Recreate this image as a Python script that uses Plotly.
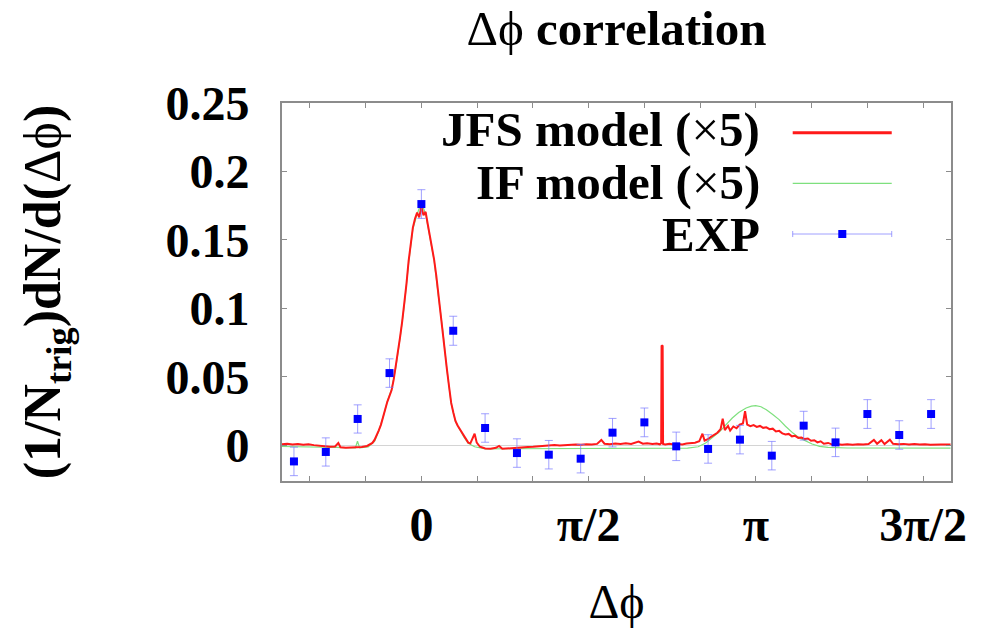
import numpy as np
import plotly.graph_objects as go

PI = np.pi

# ---- EXP: measured two-particle correlation (points with errors) ----
exp_bin = 2 * PI / 21
exp_k = list(range(-4, 17))
exp_val = [-0.0117, -0.0048, 0.0193, 0.0528, 0.1762, 0.0837, 0.0127, -0.0056,
           -0.0068, -0.0097, 0.0093, 0.0168, -0.0007, -0.0026, 0.0042, -0.0075,
           0.0144, 0.0022, 0.0229, 0.0076, 0.0229]
exp_err = [0.0104, 0.0103, 0.0103, 0.0104, 0.0105, 0.0106, 0.0104, 0.0104,
           0.0104, 0.0104, 0.0104, 0.0105, 0.0104, 0.0104, 0.0104, 0.0104,
           0.0105, 0.0104, 0.0105, 0.0104, 0.0105]
exp_phi = [k * exp_bin for k in exp_k]

# ---- JFS model (x5) ----
jfs_phi = [-1.31, -1.26, -1.21, -1.16, -1.11, -1.06, -1.01, -0.96, -0.91, -0.86,
           -0.81, -0.78, -0.76, -0.71, -0.66, -0.61, -0.56, -0.51,
           -0.48, -0.46, -0.44, -0.42, -0.40, -0.38, -0.36, -0.34, -0.32, -0.30,
           -0.28, -0.26, -0.24, -0.22, -0.20, -0.18, -0.16, -0.14, -0.12, -0.10,
           -0.08, -0.06, -0.04, -0.02, 0.00, 0.02, 0.04, 0.06, 0.08, 0.10,
           0.12, 0.14, 0.16, 0.18, 0.20, 0.22, 0.24, 0.26, 0.28, 0.30,
           0.32, 0.34, 0.36, 0.38, 0.40, 0.42, 0.44, 0.46, 0.48, 0.50,
           0.52, 0.55, 0.60, 0.65, 0.70, 0.73, 0.76, 0.80, 0.85, 0.90,
           0.95, 1.00, 1.05, 1.10, 1.15, 1.20, 1.25, 1.30, 1.35, 1.40,
           1.45, 1.50, 1.55, 1.60, 1.65, 1.69, 1.72, 1.77, 1.82, 1.87,
           1.92, 1.97, 2.04, 2.08, 2.12, 2.17, 2.21, 2.24,
           2.252, 2.256, 2.266, 2.270,
           2.29, 2.33, 2.37, 2.41, 2.45, 2.49, 2.53, 2.57, 2.61, 2.64,
           2.66, 2.69, 2.72, 2.75, 2.78, 2.81, 2.83, 2.85, 2.88, 2.90,
           2.93, 2.96, 2.99, 3.02, 3.04, 3.06, 3.09, 3.12, 3.15, 3.18,
           3.21, 3.24, 3.27, 3.30, 3.33, 3.36, 3.39, 3.42, 3.45, 3.48,
           3.51, 3.54, 3.57, 3.60, 3.63, 3.66, 3.69, 3.72, 3.75, 3.78,
           3.82, 3.86, 3.90, 3.95, 4.00, 4.05, 4.10, 4.15, 4.20, 4.25,
           4.28, 4.32, 4.35, 4.40, 4.43, 4.48, 4.53, 4.58, 4.63, 4.68,
           4.73, 4.78, 4.83, 4.88, 4.93, 4.97]
jfs_val = [0.0008, 0.0012, 0.0006, 0.0010, 0.0004, 0.0009, 0.0002, 0.0000, -0.0006, -0.0010,
           -0.0008, 0.0018, -0.0014, -0.0018, -0.0016, -0.0010, -0.0012, -0.0004,
           0.0010, 0.0018, 0.0040, 0.0072, 0.0110, 0.0150, 0.0215, 0.0262, 0.0318, 0.0365,
           0.0402, 0.0480, 0.0575, 0.0680, 0.0790, 0.0905, 0.1030, 0.1180, 0.1345, 0.1465,
           0.1590, 0.1655, 0.1700, 0.1665, 0.1745, 0.1680, 0.1705, 0.1615, 0.1530, 0.1430,
           0.1355, 0.1240, 0.1095, 0.0965, 0.0850, 0.0690, 0.0555, 0.0430, 0.0310, 0.0240,
           0.0178, 0.0145, 0.0120, 0.0098, 0.0064, 0.0045, 0.0020, 0.0015, 0.0052, 0.0085,
           0.0020, -0.0010, -0.0022, -0.0024, -0.0018, -0.0004, -0.0025, -0.0022, -0.0020, -0.0018,
           -0.0015, -0.0012, -0.0010, -0.0006, -0.0004, -0.0001, 0.0002, 0.0000, 0.0004, 0.0003,
           0.0007, 0.0005, 0.0009, 0.0006, 0.0011, 0.0040, 0.0012, 0.0008, 0.0013, 0.0010,
           0.0015, 0.0011, 0.0028, 0.0012, 0.0016, 0.0010, 0.0014, 0.0008,
           0.0015, 0.0730, 0.0725, 0.0010,
           0.0006, 0.0012, 0.0007, 0.0010, 0.0006, 0.0013, 0.0015, 0.0020, 0.0030, 0.0085,
           0.0035, 0.0045, 0.0062, 0.0075, 0.0092, 0.0118, 0.0195, 0.0112, 0.0142, 0.0108,
           0.0138, 0.0125, 0.0152, 0.0160, 0.0250, 0.0152, 0.0140, 0.0148, 0.0135, 0.0142,
           0.0128, 0.0132, 0.0118, 0.0122, 0.0102, 0.0106, 0.0088, 0.0080, 0.0084, 0.0066,
           0.0070, 0.0055, 0.0058, 0.0046, 0.0050, 0.0034, 0.0038, 0.0022, 0.0030, 0.0012,
           0.0018, 0.0006, 0.0010, 0.0004, 0.0008, 0.0005, 0.0009, 0.0006, 0.0010, 0.0040,
           0.0012, 0.0038, 0.0010, 0.0042, 0.0012, 0.0008, 0.0011, 0.0007, 0.0010, 0.0006,
           0.0009, 0.0005, 0.0008, 0.0006, 0.0007, 0.0006]

# ---- IF model (x5) ----
if_phi = [-1.31, -1.00, -0.80, -0.62, -0.60, -0.58, -0.50, -0.44, -0.40, -0.36,
          -0.32, -0.28, -0.24, -0.20, -0.16, -0.12, -0.08, -0.04, 0.00, 0.04,
          0.08, 0.12, 0.16, 0.20, 0.24, 0.28, 0.32, 0.36, 0.40, 0.44,
          0.50, 0.60, 0.80, 1.00, 1.40, 1.80, 2.20, 2.50, 2.60, 2.67,
          2.73, 2.80, 2.86, 2.92, 2.98, 3.05, 3.10, 3.14, 3.19, 3.24,
          3.30, 3.36, 3.42, 3.49, 3.55, 3.61, 3.67, 3.74, 3.82, 4.00,
          4.50, 4.97]
if_val = [-0.0008, -0.0010, -0.0015, -0.0018, 0.0030, -0.0018, -0.0012, 0.0030, 0.0105, 0.0205,
          0.0320, 0.0410, 0.0570, 0.0785, 0.1025, 0.1330, 0.1580, 0.1690, 0.1770, 0.1690,
          0.1525, 0.1350, 0.1090, 0.0845, 0.0550, 0.0305, 0.0175, 0.0115, 0.0060, 0.0015,
          -0.0010, -0.0025, -0.0025, -0.0023, -0.0022, -0.0021, -0.0021, -0.0020, -0.0010, 0.0017,
          0.0055, 0.0100, 0.0150, 0.0200, 0.0240, 0.0273, 0.0287, 0.0290, 0.0282, 0.0260,
          0.0225, 0.0188, 0.0140, 0.0090, 0.0055, 0.0030, 0.0010, -0.0007, -0.0015, -0.0019,
          -0.0020, -0.0020]

# ---- axis ticks ----
x_tick_vals = [0, PI / 2, PI, 3 * PI / 2]
x_tick_text = ["0", "π/2", "π", "3π/2"]
x_minor_step = PI / 6
y_tick_vals = [0, 0.05, 0.1, 0.15, 0.2, 0.25]
y_tick_text = ["0", "0.05", "0.1", "0.15", "0.2", "0.25"]

legend_labels = ["<b>JFS model (</b>×<b>5)</b>", "<b>IF model (</b>×<b>5)</b>", "<b>EXP</b>"]

RED = "#ff1a1a"
GREEN = "#7ee07e"
BLUE = "#0000ff"
EBAR = "rgba(120,120,255,0.7)"
FRAME = "#8c8c8c"
SERIF = "Liberation Serif"

fig = go.Figure()

fig.add_trace(go.Scatter(x=if_phi, y=if_val, mode="lines",
                         line=dict(color=GREEN, width=1.2), showlegend=False,
                         name="IF model (×5)"))
fig.add_trace(go.Scatter(x=jfs_phi, y=jfs_val, mode="lines",
                         line=dict(color=RED, width=2), showlegend=False,
                         name="JFS model (×5)"))
fig.add_trace(go.Scatter(x=exp_phi, y=exp_val, mode="markers",
                         marker=dict(symbol="square", size=8, color=BLUE),
                         error_y=dict(type="data", array=exp_err, color=EBAR,
                                      thickness=1, width=4),
                         showlegend=False, name="EXP"))

# hand-drawn key in the upper right, text right-aligned with samples after it
key_text_x = 0.7175
key_rows_y = [0.9286, 0.791, 0.6534]
sample_x0, sample_x1 = 0.7634, 0.9114
for label, yy in zip(legend_labels, key_rows_y):
    fig.add_annotation(xref="paper", yref="paper", x=key_text_x, y=yy,
                       text=label, showarrow=False, xanchor="right",
                       yanchor="middle",
                       font=dict(family=SERIF, size=49, color="black"))

shapes = [
    dict(type="line", xref="paper", yref="paper", x0=sample_x0, x1=sample_x1,
         y0=0.9214, y1=0.9214, line=dict(color=RED, width=3)),
    dict(type="line", xref="paper", yref="paper", x0=sample_x0, x1=sample_x1,
         y0=0.7876, y1=0.7876, line=dict(color=GREEN, width=1.2)),
    dict(type="line", xref="paper", yref="paper", x0=sample_x0, x1=sample_x1,
         y0=0.6534, y1=0.6534, line=dict(color=EBAR, width=1)),
    dict(type="line", xref="paper", yref="paper", x0=sample_x0, x1=sample_x0,
         y0=0.6454, y1=0.6614, line=dict(color=EBAR, width=1)),
    dict(type="line", xref="paper", yref="paper", x0=sample_x1, x1=sample_x1,
         y0=0.6454, y1=0.6614, line=dict(color=EBAR, width=1)),
    dict(type="rect", xref="paper", yref="paper", x0=0.8315, x1=0.8435,
         y0=0.6428, y1=0.664, fillcolor=BLUE, line=dict(width=0)),
]

fig.update_layout(
    width=983, height=630,
    margin=dict(l=282, r=32, t=103, b=149, autoexpand=False),
    paper_bgcolor="white", plot_bgcolor="white",
    shapes=shapes,
    title=dict(text="Δϕ <b>correlation</b>", x=0.5, xref="paper", xanchor="center",
               y=0.956, yref="container", yanchor="middle",
               font=dict(family=SERIF, size=49, color="black")),
    xaxis=dict(range=[-5 * PI / 12, 19 * PI / 12], tickmode="array",
               tickvals=x_tick_vals, ticktext=x_tick_text,
               ticks="inside", ticklen=5, tickwidth=1, tickcolor=FRAME,
               minor=dict(tick0=0, dtick=x_minor_step, ticks="inside", ticklen=5,
                          tickwidth=1, tickcolor=FRAME, showgrid=False),
               showline=True, linecolor=FRAME, linewidth=2, mirror="allticks",
               showgrid=False, zeroline=False, ticklabelstandoff=0,
               automargin=False,
               tickfont=dict(family=SERIF, size=48, color="black", weight="bold"),
               title=dict(text="Δϕ", standoff=35,
                          font=dict(family=SERIF, size=48, color="black"))),
    yaxis=dict(range=[-0.026, 0.25], tickmode="array",
               tickvals=y_tick_vals, ticktext=y_tick_text,
               ticks="inside", ticklen=5, tickwidth=1, tickcolor=FRAME,
               showline=True, linecolor=FRAME, linewidth=2, mirror="allticks",
               showgrid=False, zeroline=True, zerolinecolor="#d4d4d4", zerolinewidth=1,
               ticklabelstandoff=21, automargin=False,
               tickfont=dict(family=SERIF, size=48, color="black", weight="bold"),
               title=dict(text="<b>(1/N<sub>trig</sub>)dN/d(</b>Δϕ<b>)</b>", standoff=88,
                          font=dict(family=SERIF, size=52, color="black"))),
)

fig.write_html("out.html")
